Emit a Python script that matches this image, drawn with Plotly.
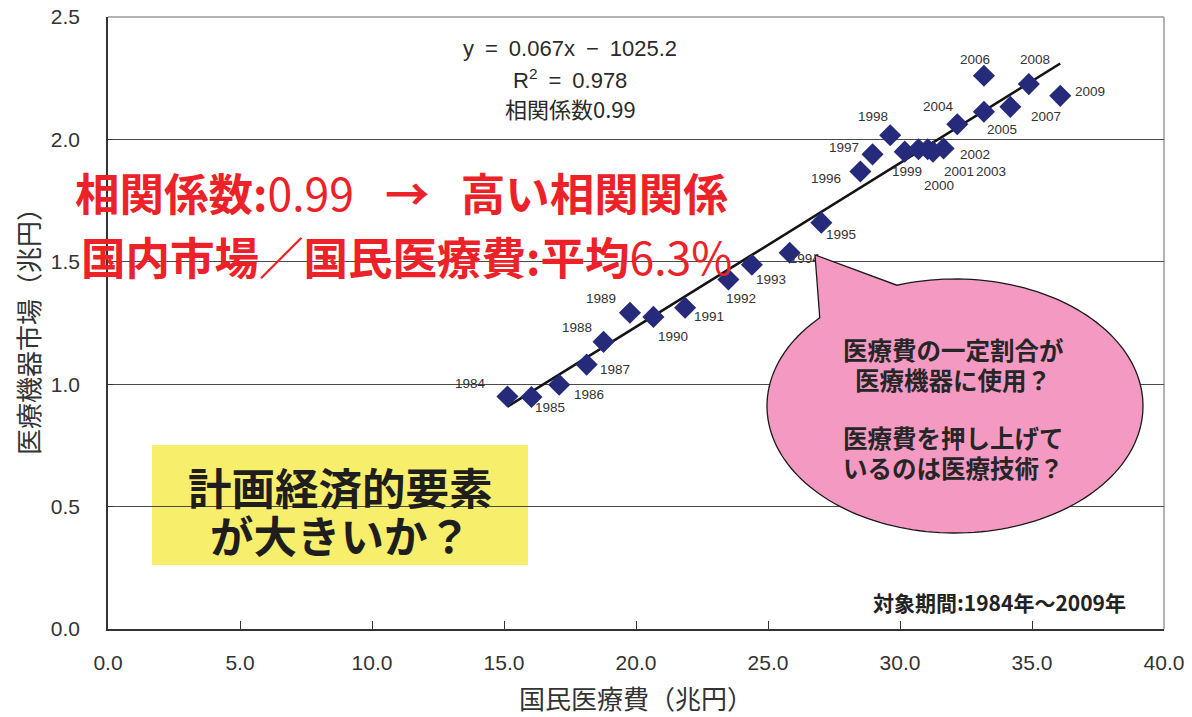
import numpy as np
import plotly.graph_objects as go

# ---- data ----
years = [1984, 1985, 1986, 1987, 1988, 1989, 1990, 1991, 1992, 1993, 1994, 1995, 1996,
         1997, 1998, 1999, 2000, 2001, 2002, 2003, 2004, 2005, 2006, 2007, 2008, 2009]
medical_expenditure = [15.13, 16.04, 17.09, 18.13, 18.77, 19.77, 20.66, 21.86, 23.50, 24.39,
                       25.82, 27.02, 28.50, 28.96, 29.63, 30.70, 30.18, 31.25, 31.05, 31.65,
                       32.17, 33.18, 33.18, 34.18, 34.88, 36.07]
device_market = [0.950, 0.948, 0.998, 1.080, 1.173, 1.292, 1.275, 1.312, 1.428, 1.488,
                 1.537, 1.660, 1.869, 1.939, 2.017, 1.960, 1.950, 1.950, 1.960, 1.963,
                 2.062, 2.113, 2.260, 2.133, 2.226, 2.178]

# label offsets from each point (pixels: right, down) -- styling only
label_offsets = [(-37, -13), (19, 11), (30, 10), (28, 5), (-27, -14), (-29, -14), (20, 20),
                 (24, 9), (13, 19), (19, 15), (25, 12), (20, 12), (-34, 7), (-29, -7),
                 (-17, -19), (-11, 22), (34, 34), (26, 20), (47, 5), (47, 23), (-19, -18),
                 (18, 18), (-9, -16), (36, 10), (6, -25), (30, -4)]
hidden_label_year = 1994   # this label sits behind the speech balloon

x_ticks = [0, 5, 10, 15, 20, 25, 30, 35, 40]
y_ticks = [0, 0.5, 1.0, 1.5, 2.0, 2.5]

CJK = "Noto Sans CJK JP"
LAT = "Liberation Sans"

# plot area in pixels
L, R, T, B = 108, 28, 17, 88
W, H = 1192, 717
PW, PH = W - L - R, H - T - B


def px_x(px):
    return (px - L) / PW


def px_y(py):
    return (H - B - py) / PH


fig = go.Figure()

# trend line (least squares on the data)
slope, intercept = np.polyfit(medical_expenditure, device_market, 1)
xs = np.array([min(medical_expenditure), max(medical_expenditure)])
fig.add_trace(go.Scatter(x=xs, y=slope * xs + intercept, mode="lines",
                         line=dict(color="#141414", width=2.6), hoverinfo="skip",
                         showlegend=False))

fig.add_trace(go.Scatter(
    x=medical_expenditure, y=device_market, mode="markers",
    marker=dict(symbol="diamond", size=17, color="#262a7b"),
    showlegend=False, cliponaxis=False))

# the label that the balloon covers is drawn as trace text (below the balloon)
hi = years.index(hidden_label_year)
fig.add_trace(go.Scatter(
    x=[medical_expenditure[hi]], y=[device_market[hi]], mode="text",
    text=[str(years[hi])], textposition="bottom right",
    textfont=dict(family=LAT, size=13.5, color="#333333"),
    showlegend=False, hoverinfo="skip", cliponaxis=False))

shapes = []
# yellow box
shapes.append(dict(type="rect", xref="paper", yref="paper",
                   x0=px_x(152), x1=px_x(528), y0=px_y(565), y1=px_y(445),
                   fillcolor="#f7ee6b", line=dict(width=0), layer="below"))
# right & top border in gray
shapes.append(dict(type="line", xref="paper", yref="paper", x0=1, x1=1, y0=0, y1=1,
                   line=dict(color="#9a9a9a", width=1.5), layer="below"))
shapes.append(dict(type="line", xref="paper", yref="paper", x0=0, x1=1, y0=1, y1=1,
                   line=dict(color="#9a9a9a", width=1.5), layer="below"))

# speech balloon (ellipse with a tail) in paper coordinates
cx, cy, rx, ry = 955, 406, 188, 127
tip = (815, 255)
a1, a2 = np.deg2rad(108), np.deg2rad(136)   # tail base angles (screen, y up)
angs = np.linspace(a2, a1 + 2 * np.pi, 160)
pts = [(cx + rx * np.cos(a), cy - ry * np.sin(a)) for a in angs]
pts.append(tip)
path = "M " + " L ".join(f"{px_x(p[0]):.5f},{px_y(p[1]):.5f}" for p in pts) + " Z"
shapes.append(dict(type="path", xref="paper", yref="paper", path=path,
                   fillcolor="#f49ac2", line=dict(color="#1a1a1a", width=1.3),
                   layer="above"))

annotations = []

# year labels
for yr, xv, yv, (dx, dy) in zip(years, medical_expenditure, device_market, label_offsets):
    if yr == hidden_label_year:
        continue
    annotations.append(dict(text=str(yr), x=xv, y=yv, xref="x", yref="y",
                            xshift=dx, yshift=-dy, showarrow=False,
                            xanchor="center", yanchor="middle",
                            font=dict(family=LAT, size=13.5, color="#333333")))


def ann(text, px, py, size, color="#222222", family=CJK, xanchor="center", angle=0):
    annotations.append(dict(text=text, xref="paper", yref="paper", x=px_x(px), y=px_y(py),
                            xanchor=xanchor, yanchor="middle", showarrow=False,
                            textangle=angle,
                            font=dict(family=family, size=size, color=color)))


SP = "\u2002"
ann(f"y{SP}={SP}0.067x{SP}−{SP}1025.2", 570, 48, 22, "#2a2a2a", LAT)
ann(f"R<sup>2</sup>{SP}={SP}0.978", 570, 79, 22, "#2a2a2a", LAT)
ann("相関係数0.99", 570, 108, 22, "#2a2a2a", CJK)

ann("<b>相関係数:</b>0.99\u2002\u2009<b>→</b>\u2002\u2009<b>高い相関関係</b>",
    73, 191, 44.5, "#ec2228", xanchor="left")
ann("<b>国内市場／国民医療費:平均</b>6.3%", 79, 256, 44.5, "#ec2228", xanchor="left")

ann("<b>計画経済的要素</b>", 340, 487, 43.5, "#1e1e1e")
ann("<b>が大きいか？</b>", 340, 534, 43.5, "#1e1e1e")

ann("<b>医療費の一定割合が</b>", 953, 349, 24.5, "#262626")
ann("<b>医療機器に使用？</b>", 953, 379, 24.5, "#262626")
ann("<b>医療費を押し上げて</b>", 953, 437, 24.5, "#262626")
ann("<b>いるのは医療技術？</b>", 953, 467, 24.5, "#262626")

ann("<b>対象期間:1984年～2009年</b>", 1128, 602, 21, "#222222", xanchor="right")

# axis titles
ann("国民医療費（兆円）", 636, 697, 26, "#333333")
ann("医療機器市場（兆円）", 27, 325, 26, "#333333", angle=-90)

fig.update_layout(
    width=W, height=H,
    margin=dict(l=L, r=R, t=T, b=B),
    paper_bgcolor="white", plot_bgcolor="white",
    shapes=shapes, annotations=annotations,
    xaxis=dict(range=[0, 40], tickvals=x_ticks, tickformat=".1f", showgrid=False,
               zeroline=False, showline=True, linecolor="#333333", linewidth=1.5,
               ticks="inside", ticklen=8, tickcolor="#333333", automargin=False,
               tickfont=dict(family=LAT, size=21, color="#333333"),
               ticklabelstandoff=14),
    yaxis=dict(range=[0, 2.5], tickvals=y_ticks, tickformat=".1f", showgrid=True,
               gridcolor="#4a4a4a", gridwidth=1, zeroline=False, showline=True,
               linecolor="#333333", linewidth=1.5, ticks="inside", ticklen=5,
               tickcolor="#333333", automargin=False,
               tickfont=dict(family=LAT, size=21, color="#333333"),
               ticklabelstandoff=22),
)

fig.write_html("out.html", config={"displayModeBar": False},
               post_script="document.body.style.margin='0';document.body.style.overflow='hidden';")
